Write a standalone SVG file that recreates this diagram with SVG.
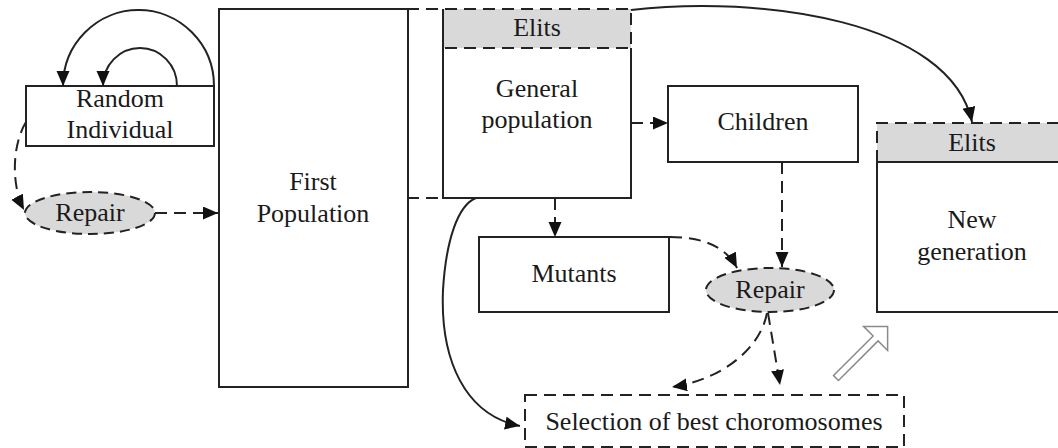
<svg xmlns="http://www.w3.org/2000/svg" width="1058" height="448" viewBox="0 0 1058 448">
  <defs>
    <marker id="arrow" markerUnits="userSpaceOnUse" markerWidth="16" markerHeight="14" refX="15" refY="6.5" orient="auto">
      <path d="M0,0 L15,6.5 L0,13 Z" fill="#111"/>
    </marker>
    <style>
      .box { fill: #fff; stroke: #222; stroke-width: 2; }
      .line { fill: none; stroke: #222; stroke-width: 2; }
      .dash { fill: none; stroke: #222; stroke-width: 2; stroke-dasharray: 12 7; }
      .shade { fill: #d9d9d9; stroke: none; }
      .oval { fill: #d9d9d9; stroke: #222; stroke-width: 2; stroke-dasharray: 10 6; }
      text { font-family: "Liberation Serif", "Times New Roman", serif; font-size: 26px; fill: #1a1a1a; text-anchor: middle; }
    </style>
  </defs>
  <rect width="1058" height="448" fill="#fff"/>

  <!-- Random individual -->
  <g id="random-individual">
    <rect class="box" x="26" y="86" width="188" height="60"/>
    <text x="120" y="107">Random</text>
    <text x="120" y="138">Individual</text>
  </g>

  <!-- Repair (initial) -->
  <g id="repair-1">
    <ellipse class="oval" cx="90" cy="213" rx="65" ry="21"/>
    <text x="90" y="221">Repair</text>
  </g>

  <!-- First population -->
  <g id="first-population">
    <rect class="box" x="219" y="9" width="189" height="378"/>
    <text x="313" y="190">First</text>
    <text x="313" y="222">Population</text>
  </g>

  <!-- Current population: elits + general -->
  <g id="general-population">
    <rect class="shade" x="443" y="9" width="188" height="39"/>
    <path class="line" d="M631,48 L631,198 L443,198 L443,9"/>
    <path class="dash" d="M407,9 L631,9 L631,48 L443,48"/>
    <path class="dash" d="M407,198 L443,198"/>
    <text x="537" y="36">Elits</text>
    <text x="537" y="97">General</text>
    <text x="537" y="128">population</text>
  </g>

  <!-- Children -->
  <g id="children">
    <rect class="box" x="668" y="86" width="190" height="76"/>
    <text x="763" y="130">Children</text>
  </g>

  <!-- Mutants -->
  <g id="mutants">
    <rect class="box" x="479" y="237" width="190" height="75"/>
    <text x="574" y="282">Mutants</text>
  </g>

  <!-- Repair (offspring) -->
  <g id="repair-2">
    <ellipse class="oval" cx="770" cy="290" rx="64" ry="22"/>
    <text x="770" y="298">Repair</text>
  </g>

  <!-- New generation -->
  <g id="new-generation">
    <rect class="shade" x="877" y="123" width="185" height="39"/>
    <rect fill="#fff" x="877" y="162" width="185" height="150"/>
    <path class="line" d="M877,162 L877,312 L1062,312"/>
    <path class="line" d="M877,162 L1062,162"/>
    <path class="dash" d="M877,162 L877,123 L1062,123"/>
    <text x="972" y="151">Elits</text>
    <text x="972" y="228">New</text>
    <text x="972" y="260">generation</text>
  </g>

  <!-- Selection -->
  <g id="selection">
    <rect class="dash" x="525" y="395" width="379" height="52"/>
    <text x="714" y="430">Selection of best choromosomes</text>
  </g>

  <!-- Connectors -->
  <g id="connectors">
    <path class="line" d="M214,86 A75.5,76 0 0 0 63,86" marker-end="url(#arrow)"/>
    <path class="line" d="M177,86 A37,38 0 0 0 103,86" marker-end="url(#arrow)"/>
    <path class="dash" d="M26,122 C12,145 11,185 24,210" marker-end="url(#arrow)"/>
    <path class="dash" d="M155,213 L218,213" marker-end="url(#arrow)"/>
    <path class="dash" d="M631,123 L668,123" marker-end="url(#arrow)"/>
    <path class="dash" d="M555,198 L555,237" marker-end="url(#arrow)"/>
    <path class="line" d="M631,10 C760,-5 950,20 972,122" marker-end="url(#arrow)"/>
    <path class="dash" d="M782,162 L782,267" marker-end="url(#arrow)"/>
    <path class="dash" d="M670,237 C700,237 725,245 737,268" marker-end="url(#arrow)"/>
    <path class="dash" d="M767,313 C760,350 720,380 672,387" marker-end="url(#arrow)"/>
    <path class="dash" d="M768,313 L780,385" marker-end="url(#arrow)"/>
    <path class="line" d="M476,198 C458,205 446,240 443,290 C440,360 465,415 520,426" marker-end="url(#arrow)"/>
    <!-- hollow arrow toward the new generation -->
    <polygon transform="translate(836,378) rotate(-45)" points="0,-3.5 56,-3.5 56,-17 73,0 56,17 56,3.5 0,3.5" fill="#fff" stroke="#8a8a8a" stroke-width="1.5" stroke-linejoin="miter"/>
  </g>
</svg>
